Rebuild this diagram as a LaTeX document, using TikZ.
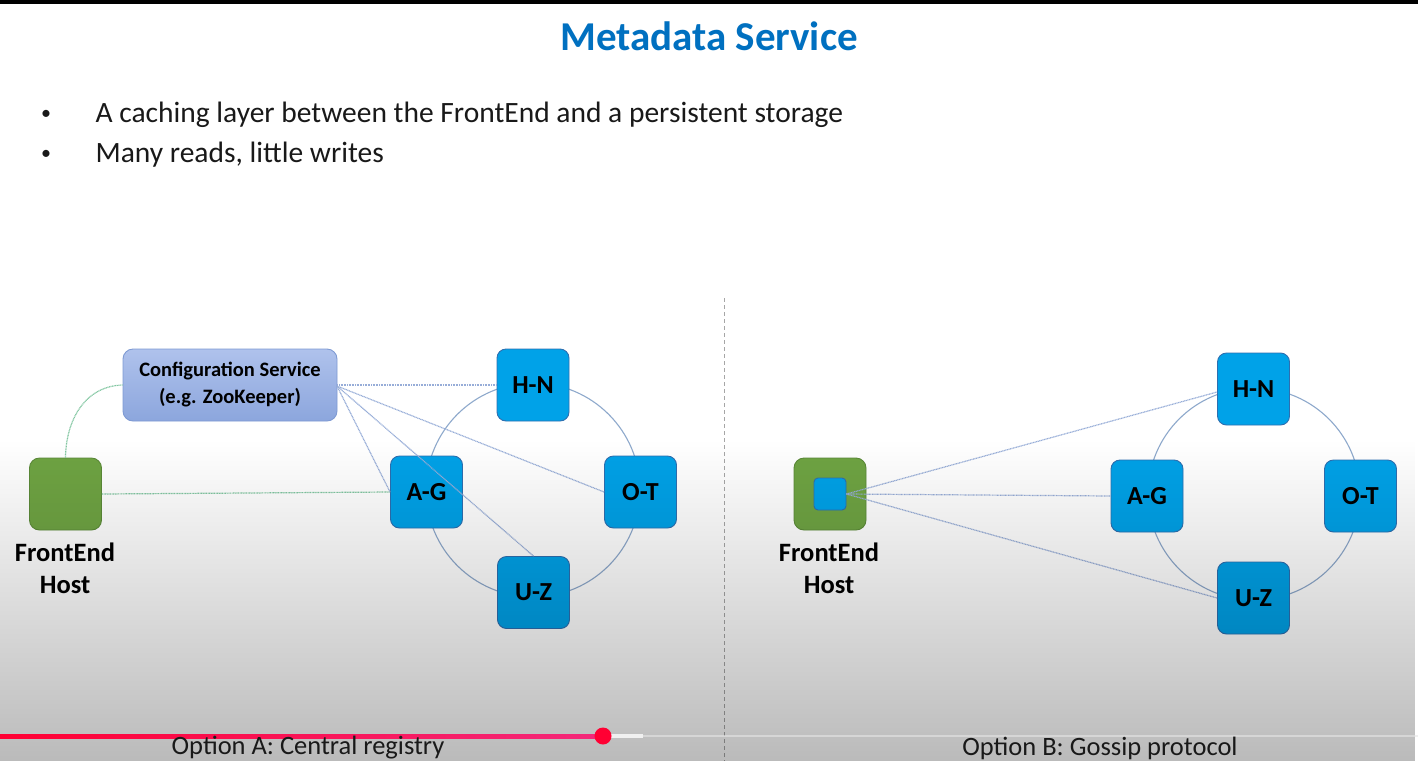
\documentclass[tikz,border=0pt]{standalone}
\usepackage{fontspec}
\setmainfont{Carlito}
\usetikzlibrary{fadings}
\definecolor{titleblue}{HTML}{0070C0}
\definecolor{shardfill}{HTML}{00A2E8}
\definecolor{sharddraw}{HTML}{2E6FB0}
\definecolor{hostfill}{HTML}{6FA443}
\definecolor{hostdraw}{HTML}{5B8A38}
\definecolor{cfgtop}{HTML}{AFC2EC}
\definecolor{cfgbot}{HTML}{8CA6DD}
\definecolor{cfgdraw}{HTML}{7E9AD3}
\definecolor{ringline}{HTML}{8EA9CC}
\definecolor{linkblue}{HTML}{97ADD8}
\definecolor{linkgreen}{HTML}{80C6A0}
\definecolor{ytred}{HTML}{FF0033}
\definecolor{ytpink}{HTML}{F4287A}
\tikzfading[name=shade down, top color=transparent!100, bottom color=transparent!73]
\tikzset{
  shard/.style={rectangle, rounded corners=9pt, draw=sharddraw, line width=0.9pt,
    fill=shardfill, minimum width=72pt, minimum height=72pt,
    font=\fontsize{26}{28}\selectfont\bfseries, text=black},
  host/.style={rectangle, rounded corners=10pt, draw=hostdraw, line width=0.9pt,
    fill=hostfill, minimum width=72pt, minimum height=72pt},
  inner/.style={rectangle, rounded corners=4pt, draw=sharddraw, line width=0.9pt,
    fill=shardfill, minimum width=32pt, minimum height=32pt},
  hostlabel/.style={font=\fontsize{26.5}{32}\selectfont\bfseries, align=center, text=black},
  cfg/.style={rectangle, rounded corners=10pt, draw=cfgdraw, line width=0.9pt,
    top color=cfgtop, bottom color=cfgbot, minimum width=214pt, minimum height=72pt,
    font=\fontsize{20.5}{27}\selectfont\bfseries, align=center, text=black},
  ring/.style={draw=ringline, line width=1.1pt},
  bluelink/.style={draw=linkblue, line width=1.2pt, dash pattern=on 1pt off 0.6pt},
  greenlink/.style={draw=linkgreen, line width=1.2pt, dash pattern=on 1pt off 0.6pt},
  caption/.style={font=\fontsize{26.5}{28}\selectfont, text=black!90},
  bulletmark/.style={font=\fontsize{20}{24}\selectfont, text=black!90},
  bullettext/.style={font=\fontsize{29.5}{32}\selectfont, text=black!90, anchor=west}
}
\begin{document}
\begin{tikzpicture}[x=1pt, y=-1pt]
\useasboundingbox (0,0) rectangle (1418,761);
\fill[white] (0,0) rectangle (1418,761);
\fill[black] (0,0) rectangle (1418,4);

% heading and bullets
\node[font=\fontsize{41}{44}\selectfont\bfseries, text=titleblue] (title) at (709,36) {Metadata Service};
\node[bulletmark] (b1) at (46,115) {•};
\node[bulletmark] (b2) at (46,155) {•};
\node[bullettext] (t1) at (92,115) {A caching layer between the FrontEnd and a persistent storage};
\node[bullettext] (t2) at (92,155) {Many reads, little writes};

% divider between the two options
\draw[gray!70, line width=1pt, dash pattern=on 4pt off 3pt] (724,298) -- (724,761);

% ---- Option A: central registry ----
\draw[ring] (533,490) circle (107);
\node[cfg] (cfg) at (230,385) {Configuration Service\\(e.g. ZooKeeper)};
\node[host] (feA) at (65.5,494) {};
\node[hostlabel] (feAlbl) at (65,568) {FrontEnd\\Host};
\node[shard] (hnA) at (533,385) {H-N};
\node[shard] (agA) at (426.5,492) {A-G};
\node[shard] (otA) at (640.5,492) {O-T};
\node[shard] (uzA) at (533.5,592.5) {U-Z};
\coordinate (cfgR) at (337,386);
\draw[greenlink] (cfg.west) .. controls (85,386) and (66,420) .. (feA.north);
\draw[greenlink] (feA.east) -- (agA.west);
\draw[bluelink] (cfg.east) -- (hnA.west);
\draw[bluelink] (cfgR) -- (agA.west);
\draw[bluelink] (cfgR) -- (otA.west);
\draw[bluelink] (cfgR) -- (uzA.north);

% ---- Option B: gossip protocol ----
\draw[ring] (1254,494) circle (106);
\node[host] (feB) at (830,494) {};
\node[inner] (feBin) at (830,494) {};
\node[hostlabel] (feBlbl) at (829,568) {FrontEnd\\Host};
\node[shard] (hnB) at (1253.5,389) {H-N};
\node[shard] (agB) at (1147,496) {A-G};
\node[shard] (otB) at (1360.5,496) {O-T};
\node[shard] (uzB) at (1253.5,598) {U-Z};
\draw[bluelink] (feBin.east) -- ([yshift=-3pt]hnB.west);
\draw[bluelink] (feBin.east) -- (agB.west);
\draw[bluelink] (feBin.east) -- (uzB.west);

% darkening toward the bottom edge
\fill[black, path fading=shade down] (0,440) rectangle (1418,761);

% playback bar
\draw[line width=2.5pt, white!80!gray, opacity=0.6] (643,736) -- (1418,736);
\draw[line width=4pt, white!88!gray] (603,736) -- (643,736);
\shade[left color=ytred, right color=ytpink] (0,734) rectangle (603,738);
\fill[ytred] (603,736) circle (8.5);

% option captions
\node[caption] (capA) at (308,748) {Option A: Central registry};
\node[caption] (capB) at (1100,748) {Option B: Gossip protocol};
\end{tikzpicture}
\end{document}
